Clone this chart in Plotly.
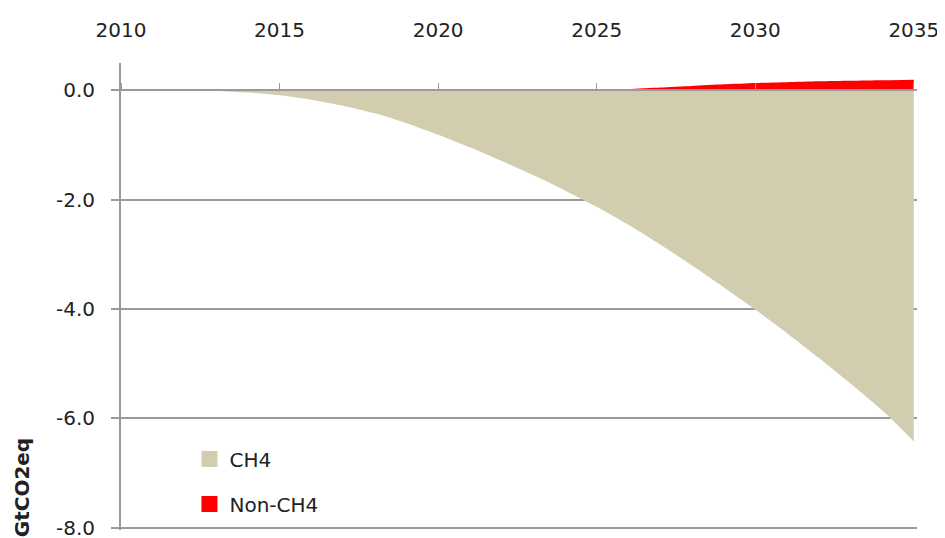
import plotly.graph_objects as go

FONT = "DejaVu Sans"
CH4_COLOR = "#D3CDB0"
NONCH4_COLOR = "#FF0000"
GRID_COLOR = "#9A9A9A"

years = list(range(2010, 2036))
ch4 = [0.0, 0.0, 0.0, -0.01, -0.04, -0.09, -0.17, -0.28, -0.42, -0.6,
       -0.81, -1.04, -1.29, -1.55, -1.83, -2.13, -2.46, -2.82, -3.2, -3.6,
       -4.01, -4.44, -4.89, -5.36, -5.85, -6.42]
non_ch4 = [0.0, 0.0, 0.0, 0.0, 0.0, 0.0, 0.0, 0.0, 0.0, 0.0,
           0.0, 0.0, 0.0, 0.0, 0.0, 0.0, 0.02, 0.05, 0.08, 0.11,
           0.135, 0.15, 0.165, 0.175, 0.185, 0.195]
x_ticks = [2010, 2015, 2020, 2025, 2030, 2035]
y_ticks = [-8, -6, -4, -2, 0]
y_ticktext = ["-8.0", "-6.0", "-4.0", "-2.0", "0.0"]
Y_MIN, Y_MAX = -8.04, 0.5

fig = go.Figure()

# aree (senza legenda, la legenda usa quadratini a parte)
fig.add_trace(go.Scatter(x=years, y=ch4, mode="lines", fill="tozeroy",
                         line=dict(width=0, shape="spline", smoothing=0.6),
                         fillcolor=CH4_COLOR, showlegend=False, hoverinfo="x+y"))
fig.add_trace(go.Scatter(x=years, y=non_ch4, mode="lines", fill="tozeroy",
                         line=dict(width=0, shape="spline", smoothing=0.6),
                         fillcolor=NONCH4_COLOR, showlegend=False, hoverinfo="x+y"))

# voci di legenda
for name, color, grp in [("CH4", CH4_COLOR, "a"), ("Non-CH4", NONCH4_COLOR, "b")]:
    fig.add_trace(go.Scatter(x=[None], y=[None], mode="markers", name=name,
                             legendgroup=grp,
                             marker=dict(symbol="square", size=16, color=color)))

# la pagina html ha 8px di margine sul body: figura un po' più piccola
fig.update_layout(
    template="none",
    width=937, height=530,
    margin=dict(l=113, r=28, t=55, b=8),
    plot_bgcolor="white", paper_bgcolor="white",
    font=dict(family=FONT, size=20, color="#222222"),
    showlegend=True,
    legend=dict(x=0.086, y=0.194, xanchor="left", yanchor="top",
                bgcolor="rgba(0,0,0,0)", traceorder="grouped",
                tracegroupgap=16, font=dict(size=20)),
    xaxis=dict(range=[2010, 2035.1], tickvals=x_ticks, side="top",
               anchor="free", position=-Y_MIN / (Y_MAX - Y_MIN), automargin=False,
               showline=True, linecolor=GRID_COLOR, linewidth=2,
               ticks="outside", ticklen=6, tickwidth=1, tickcolor=GRID_COLOR,
               ticklabelstandoff=38, ticklabeloverflow="allow",
               showgrid=False, zeroline=False),
    yaxis=dict(range=[Y_MIN, Y_MAX], tickvals=y_ticks, ticktext=y_ticktext,
               automargin=False,
               showline=True, linecolor=GRID_COLOR, linewidth=2,
               ticks="outside", ticklen=8, tickwidth=2, tickcolor=GRID_COLOR,
               ticklabelstandoff=12, ticklabeloverflow="allow",
               showgrid=True, gridcolor=GRID_COLOR, gridwidth=2,
               zeroline=False),
    annotations=[dict(text="<b>GtCO2eq</b>", textangle=-90,
                      xref="paper", yref="paper", x=-0.124, y=0.09,
                      xanchor="center", yanchor="middle",
                      showarrow=False, font=dict(size=20, color="#222222"))],
)

fig.write_html("out.html")
